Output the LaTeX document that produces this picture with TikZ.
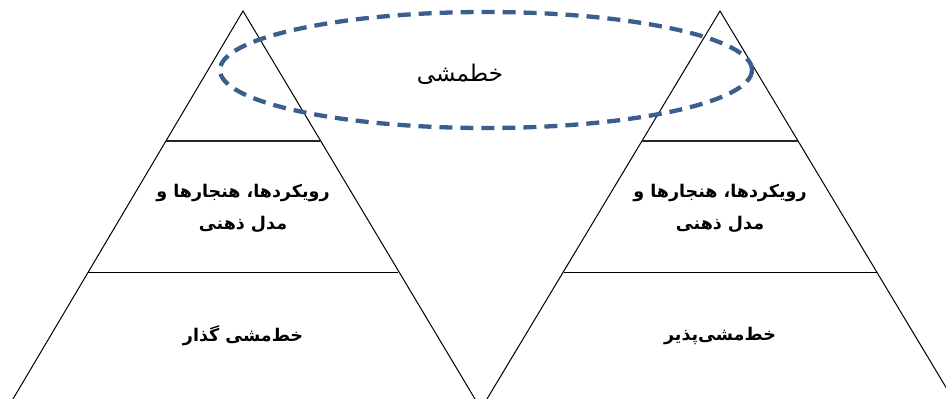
\documentclass[tikz,border=0pt]{standalone}
\usepackage{fontspec}
\newfontfamily\arabicfont[Script=Arabic]{DejaVu Sans}
\TeXXeTstate=1
\definecolor{dashblue}{RGB}{58,95,140}
\tikzset{
  edgeline/.style={line width=1pt, black},
  midline/.style={line width=1.6pt, black!85},
  lowline/.style={line width=1pt, black},
  boldlabel/.style={font=\arabicfont\bfseries\fontsize{17.5}{32}\selectfont, align=center},
  plainlabel/.style={font=\arabicfont\fontsize{23}{28}\selectfont},
}
\begin{document}
\begin{tikzpicture}[x=1pt,y=-1pt]
\useasboundingbox (0,0) rectangle (946,399);
\clip (0,0) rectangle (946,399);
% left triangle
\coordinate (LA) at (243,11);
\coordinate (LL) at (13,399);
\coordinate (LR) at (475,399);
\draw[edgeline] (LL) -- (LA) -- (LR);
\draw[midline] (165.6,141) -- (320.4,141);
\draw[lowline] (87.6,272) -- (398.4,272);
% right triangle
\coordinate (RA) at (720,11);
\coordinate (RL) at (487,399);
\coordinate (RR) at (953,399);
\draw[edgeline] (RL) -- (RA) -- (RR);
\draw[midline] (642,141) -- (798,141);
\draw[lowline] (563.5,272) -- (876.5,272);
% dashed ellipse
\draw[draw=dashblue, line width=4.3pt, dash pattern=on 13pt off 8pt] (486,70) ellipse [x radius=266, y radius=58];
\node[plainlabel] (policy) at (460,74) {\beginR خطمشی\endR};
% labels
\node[boldlabel] (lmid) at (243,208) {\beginR رویکردها، هنجارها و\endR\\\beginR مدل ذهنی\endR};
\node[boldlabel] (rmid) at (720,208) {\beginR رویکردها، هنجارها و\endR\\\beginR مدل ذهنی\endR};
\node[boldlabel] (lbot) at (243,336) {\beginR خط‌مشی گذار\endR};
\node[boldlabel] (rbot) at (720,336) {\beginR خط‌مشی‌پذیر\endR};
\end{tikzpicture}
\end{document}
